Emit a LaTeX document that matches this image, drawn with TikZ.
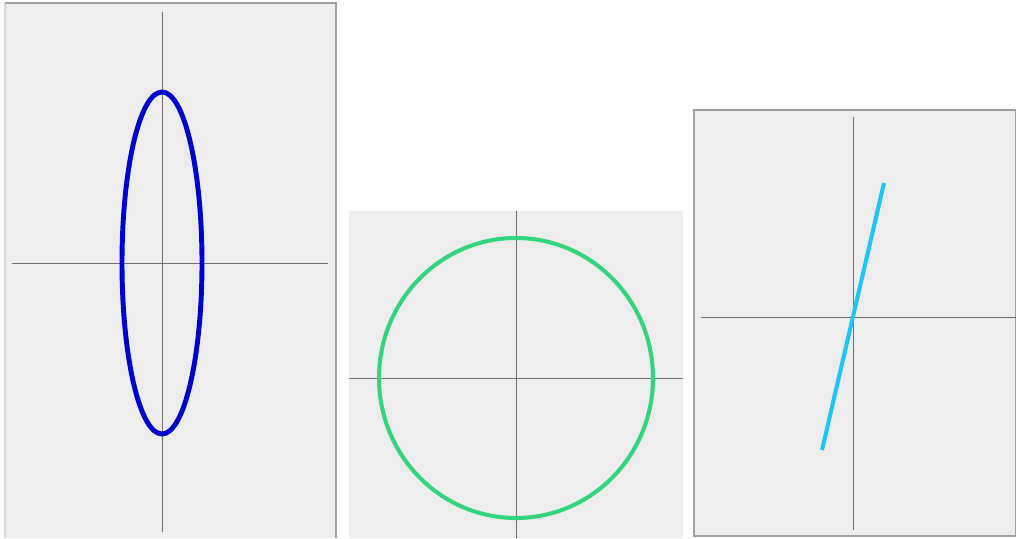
\documentclass[tikz,border=0pt]{standalone}
\usepackage{tikz}
\usetikzlibrary{positioning}
\definecolor{panelgray}{RGB}{237,237,237}
\definecolor{framegray}{RGB}{160,160,160}
\definecolor{axisgray}{RGB}{110,110,110}
\definecolor{ellblue}{RGB}{0,0,204}
\definecolor{circgreen}{RGB}{52,211,128}
\definecolor{linecyan}{RGB}{30,196,244}
\begin{document}
\begin{tikzpicture}[
  x=0.02cm,y=-0.02cm,
  panel/.style={fill=panelgray,draw=none},
  frame/.style={draw=framegray,line width=0.6pt},
  axis/.style={draw=axisgray,line width=0.5pt},
  curve/.style={line width=2.3pt}
]
\useasboundingbox (0,0) rectangle (1016,538);
% left panel: tall ellipse
\fill[panel] (5,3) rectangle (336,538);
\draw[frame,draw=framegray!40] (5,538) -- (5,3);
\draw[frame] (5,3) -- (336,3) -- (336,538);
\coordinate (oa) at (162,263);
\draw[axis] (12,263) -- (328,263);
\draw[axis] (162,12) -- (162,532);
\draw[curve,line width=2.8pt,draw=ellblue] (oa) ellipse [x radius=40,y radius=171];
% middle panel: circle
\fill[panel] (349,211) rectangle (683,538);
\coordinate (ob) at (516,378);
\draw[axis] (349,378) -- (683,378);
\draw[axis] (516,211) -- (516,538);
\draw[curve,draw=circgreen] (ob) ellipse [x radius=137,y radius=140];
% right panel: tilted segment
\fill[panel] (694,110) rectangle (1016,536);
\draw[frame] (694,110) rectangle (1016,536);
\coordinate (oc) at (853,317);
\draw[axis] (701,317) -- (1016,317);
\draw[axis] (853,117) -- (853,530);
\coordinate (ptop) at (884,183);
\coordinate (pbot) at (822,450);
\draw[curve,draw=linecyan] (pbot) -- (ptop);
\end{tikzpicture}
\end{document}
